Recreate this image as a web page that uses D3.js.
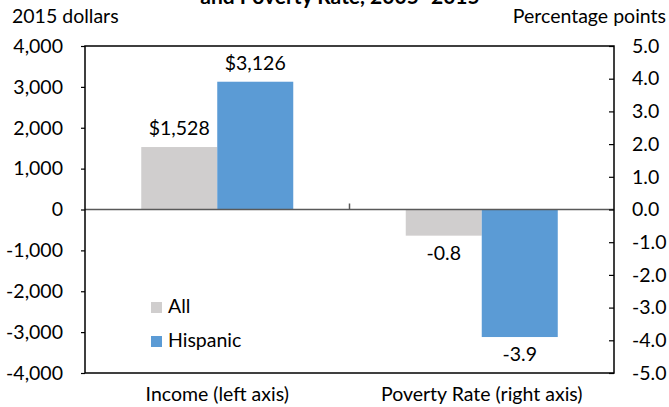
<!DOCTYPE html>
<html>
<head>
<meta charset="utf-8">
<script src="https://cdn.jsdelivr.net/npm/d3@7"></script>
<style>
  html, body { margin: 0; padding: 0; background: #fff; }
  svg { display: block; }
  text { font-family: Lato, "Open Sans", sans-serif; fill: #000; }
</style>
</head>
<body>
<svg id="chart" width="669" height="407"></svg>
<script>
// Change in median household income and poverty rate, 2005–2015
const categories = ["Income (left axis)", "Poverty Rate (right axis)"];
const seriesNames = ["All", "Hispanic"];
const incomeValues = [1528, 3126];      // 2015 dollars
const povertyValues = [-0.8, -3.9];     // percentage points
const incomeLabels = ["$1,528", "$3,126"];
const povertyLabels = ["-0.8", "-3.9"];
const leftTicks = [-4000, -3000, -2000, -1000, 0, 1000, 2000, 3000, 4000];
const rightTicks = [-5, -4, -3, -2, -1, 0, 1, 2, 3, 4, 5];
const colors = ["#D0CECE", "#5B9BD5"];

const FS = "19.5px";
const svg = d3.select("#chart");
const margin = { left: 85, right: 55, top: 46, bottom: 34 };
const W = 669, H = 407;
const x0 = margin.left, x1 = W - margin.right;
const y0 = margin.top, y1 = H - margin.bottom;

const yLeft = d3.scaleLinear().domain([-4000, 4000]).range([y1, y0]);
const yRight = d3.scaleLinear().domain([-5, 5]).range([y1, y0]);
const xCat = d3.scaleBand().domain(categories).range([x0, x1]).paddingInner(0).paddingOuter(0);
const xSeries = d3.scaleBand().domain(seriesNames).range([0, xCat.bandwidth()]).paddingInner(0).paddingOuter(0.74);

// Title (second line sits at the very top edge)
svg.append("text")
  .attr("x", 340).attr("y", 4)
  .attr("text-anchor", "middle")
  .style("font-weight", "bold").style("font-size", "21px")
  .text("and Poverty Rate, 2005–2015");

// Axis titles
svg.append("text").attr("x", 12).attr("y", 23).style("font-size", FS).text("2015 dollars");
svg.append("text").attr("x", 666).attr("y", 23).attr("text-anchor", "end").style("font-size", FS).text("Percentage points");

// Bars
const groups = [
  { cat: categories[0], values: incomeValues, scale: yLeft, labels: incomeLabels },
  { cat: categories[1], values: povertyValues, scale: yRight, labels: povertyLabels }
];
groups.forEach(g => {
  const gx = xCat(g.cat);
  g.values.forEach((v, i) => {
    const bx = gx + xSeries(seriesNames[i]);
    const yv = g.scale(v), yz = g.scale(0);
    svg.append("rect")
      .attr("x", bx).attr("width", xSeries.bandwidth())
      .attr("y", Math.min(yv, yz)).attr("height", Math.abs(yv - yz))
      .attr("fill", colors[i]);
    svg.append("text")
      .attr("x", bx + xSeries.bandwidth() / 2)
      .attr("y", v >= 0 ? yv - 12 : yv + 24)
      .attr("text-anchor", "middle")
      .style("font-size", FS)
      .text(g.labels[i]);
  });
});

// Zero line
svg.append("line")
  .attr("x1", x0).attr("x2", x1)
  .attr("y1", yLeft(0)).attr("y2", yLeft(0))
  .attr("stroke", "#595959").attr("stroke-width", 1.5);
// Category divider tick
svg.append("line")
  .attr("x1", xCat(categories[1])).attr("x2", xCat(categories[1]))
  .attr("y1", yLeft(0) - 6).attr("y2", yLeft(0))
  .attr("stroke", "#595959").attr("stroke-width", 1.5);

// Plot frame
svg.append("rect")
  .attr("x", x0).attr("y", y0).attr("width", x1 - x0).attr("height", y1 - y0)
  .attr("fill", "none").attr("stroke", "#000").attr("stroke-width", 1.5);

// Left axis
const leftAxis = d3.axisLeft(yLeft).tickValues(leftTicks).tickSize(4).tickPadding(18)
  .tickFormat(d => d3.format(",")(d).replace("−", "-"));
const gl = svg.append("g").attr("transform", `translate(${x0},0)`).call(leftAxis);
gl.select(".domain").remove();
gl.selectAll(".tick line").attr("stroke", "#000").attr("stroke-width", 1.2);
gl.selectAll("text").style("font-size", FS).attr("fill", "#000").style("font-family", "Lato, sans-serif");

// Right axis (ticks point inward)
const rightAxis = d3.axisRight(yRight).tickValues(rightTicks).tickSize(-5).tickPadding(18)
  .tickFormat(d => d3.format(".1f")(d).replace("−", "-"));
const gr = svg.append("g").attr("transform", `translate(${x1},0)`).call(rightAxis);
gr.select(".domain").remove();
gr.selectAll(".tick line").attr("stroke", "#000").attr("stroke-width", 1.2);
gr.selectAll("text").style("font-size", FS).attr("fill", "#000").style("font-family", "Lato, sans-serif");

// Category labels
categories.forEach(c => {
  svg.append("text")
    .attr("x", xCat(c) + xCat.bandwidth() / 2).attr("y", 401)
    .attr("text-anchor", "middle").style("font-size", FS).text(c);
});

// Legend
seriesNames.forEach((s, i) => {
  const ly = 302 + i * 34;
  svg.append("rect").attr("x", 151).attr("y", ly).attr("width", 11).attr("height", 11).attr("fill", colors[i]);
  svg.append("text").attr("x", 168).attr("y", ly + 11).style("font-size", FS).text(s);
});
</script>
</body>
</html>
